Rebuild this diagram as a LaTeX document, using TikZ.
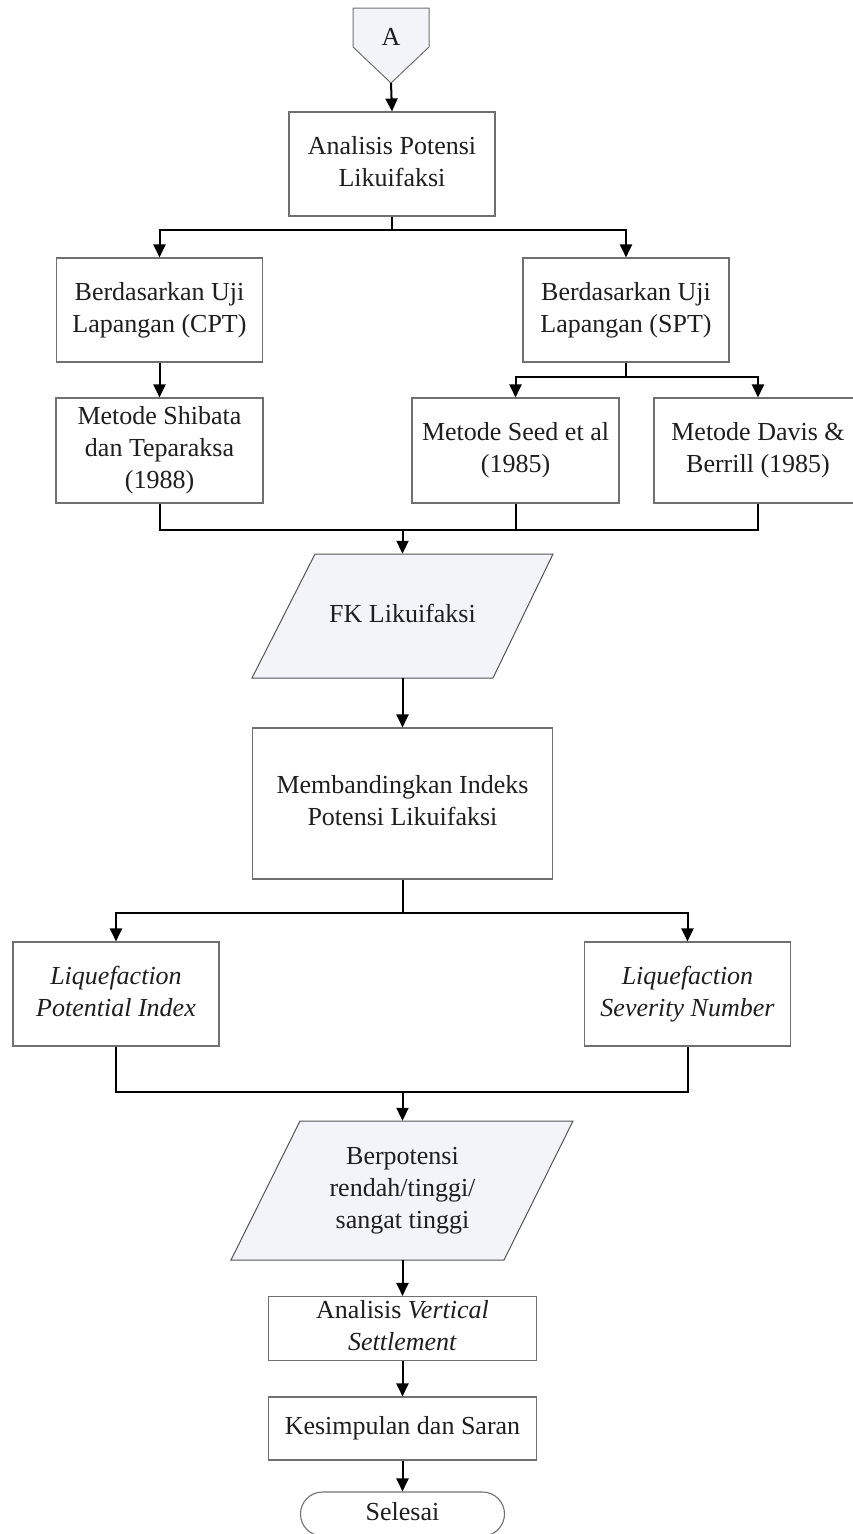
\documentclass[tikz,border=0pt]{standalone}
\usepackage{fontspec}
\setmainfont{Liberation Serif}
\usetikzlibrary{arrows.meta,calc,backgrounds}
\definecolor{boxline}{HTML}{707070}
\definecolor{ioline}{HTML}{555555}
\definecolor{iofill}{HTML}{F3F4FA}
\definecolor{txt}{HTML}{1E1E1E}
\begin{document}
\begin{tikzpicture}[x=1pt,y=-1pt,
  box/.style={draw=boxline, line width=1.1pt, fill=white, inner sep=0pt, align=center,
    text=txt, font=\fontsize{26}{32}\selectfont},
  plain/.style={inner sep=0pt, align=center, text=txt, font=\fontsize{26}{32}\selectfont},
  io/.style={draw=ioline, line width=1pt, fill=iofill},
  flow/.style={line width=2pt, -{Triangle[width=12pt,length=13pt]}},
  link/.style={line width=2pt}]
\useasboundingbox (0,0) rectangle (852,1534);

% connector A
\path[io, draw=boxline] (353,8) -- (429,8) -- (429,47) -- (391,83) -- (353,47) -- cycle;
\node[plain] (a) at (391,37) {A};
\coordinate (atip) at (391,83);

\node[box, minimum width=206, minimum height=104] (analisis) at (392,164) {\strut Analisis Potensi\\\strut Likuifaksi};
\node[box, minimum width=206, minimum height=104] (cpt) at (159.5,310) {\strut Berdasarkan Uji\\\strut Lapangan (CPT)};
\node[box, minimum width=206, minimum height=104] (spt) at (626,310) {\strut Berdasarkan Uji\\\strut Lapangan (SPT)};
\node[box, minimum width=207, minimum height=105] (shibata) at (159.5,450.5) {\strut Metode Shibata\\\strut dan Teparaksa\\\strut (1988)};
\node[box, minimum width=207, minimum height=105] (seed) at (515.5,450.5) {\strut Metode Seed et al\\\strut (1985)};
\node[box, minimum width=208, minimum height=105] (davis) at (758,450.5) {\strut Metode Davis \&\\\strut Berrill (1985)};

\node[plain, minimum width=200, minimum height=124] (fk) at (402.5,616) {\strut FK Likuifaksi};
\begin{scope}[on background layer]
\path[io] ($(fk.center)+(-87.5,-62)$) -- ($(fk.center)+(150.5,-62)$) -- ($(fk.center)+(90.5,62)$) -- ($(fk.center)+(-150.5,62)$) -- cycle;
\end{scope}

\node[box, minimum width=300, minimum height=151] (banding) at (402.5,803.5) {\strut Membandingkan Indeks\\\strut Potensi Likuifaksi};
\node[box, minimum width=206, minimum height=104] (lpi) at (116,994) {\strut\textit{Liquefaction}\\\strut\textit{Potential Index}};
\node[box, minimum width=206, minimum height=104] (lsn) at (687.5,994) {\strut\textit{Liquefaction}\\\strut\textit{Severity Number}};

\node[plain, minimum width=200, minimum height=139] (berp) at (402.5,1190.5) {\strut Berpotensi\\\strut rendah/tinggi/\\\strut sangat tinggi};
\begin{scope}[on background layer]
\path[io] ($(berp.center)+(-102.5,-69.5)$) -- ($(berp.center)+(170.5,-69.5)$) -- ($(berp.center)+(101.5,69.5)$) -- ($(berp.center)+(-171.5,69.5)$) -- cycle;
\end{scope}

\node[box, minimum width=268, minimum height=63] (vs) at (402.5,1328.5) {\strut Analisis \textit{Vertical}\\\strut\textit{Settlement}};
\node[box, minimum width=268, minimum height=63] (kes) at (402.5,1428.5) {\strut Kesimpulan dan Saran};
\node[box, rounded corners=22pt, minimum width=204, minimum height=44] (selesai) at (402.5,1514) {\strut Selesai};

% connectors
\draw[flow] (atip) -- (analisis.north);
\coordinate (j1) at (392,230);
\draw[link] (analisis.south) -- (j1);
\draw[flow] (j1) -| (cpt.north);
\draw[flow] (j1) -| (spt.north);
\draw[flow] (cpt.south) -- (shibata.north);
\coordinate (j2) at (626,377);
\draw[link] (spt.south) -- (j2);
\draw[flow] (j2) -| (seed.north);
\draw[flow] (j2) -| (davis.north);
\coordinate (j3) at (402.5,530);
\draw[link] (shibata.south) |- (davis.south |- j3) -- (davis.south);
\draw[link] (seed.south) -- (seed.south |- j3);
\draw[flow] (j3) -- (fk.north);
\draw[flow] (fk.south) -- (banding.north);
\coordinate (j4) at (402.5,913);
\draw[link] (banding.south) -- (j4);
\draw[flow] (j4) -| (lpi.north);
\draw[flow] (j4) -| (lsn.north);
\coordinate (j5) at (402.5,1092);
\draw[link] (lpi.south) |- (lsn.south |- j5) -- (lsn.south);
\draw[flow] (j5) -- (berp.north);
\draw[flow] (berp.south) -- (vs.north);
\draw[flow] (vs.south) -- (kes.north);
\draw[flow] (kes.south) -- (selesai.north);
\end{tikzpicture}
\end{document}
